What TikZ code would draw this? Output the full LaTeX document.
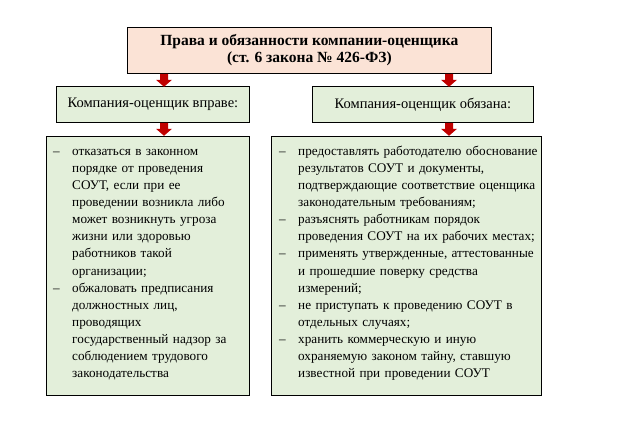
\documentclass[tikz,border=0pt]{standalone}
\usepackage{fontspec}
\setmainfont{Liberation Serif}
\definecolor{peach}{HTML}{FBE3D6}
\definecolor{sage}{HTML}{E3EFDA}
\definecolor{darkred}{HTML}{C00000}
\newcommand\dashitem{\par\hangindent=19pt\hangafter=1\noindent\makebox[19pt][l]{–}}
\tikzset{
  box/.style={draw, line width=0.8pt, anchor=north west, inner sep=0pt},
  redarrow/.style={fill=darkred, draw=none}
}
% block arrow pointing down from a point
\newcommand\redarrowdown[1]{\fill[redarrow] #1 ++(-4,0) -- ++(0,6) -- ++(-4,0) -- ++(8,7) -- ++(8,-7) -- ++(-4,0) -- ++(0,-6) -- cycle;}
\begin{document}
\begin{tikzpicture}[x=1pt,y=-1pt]
\useasboundingbox (0,0) rectangle (636,429);

% the heading
\node[box, fill=peach, minimum width=364pt, minimum height=46pt] (head) at (127,27) {};
\node[font=\bfseries\fontsize{15.5}{17}\selectfont, align=center] at (head.center)
  {Права и обязанности компании-оценщика\\(ст. 6 закона № 426-ФЗ)};

% the two headers
\node[box, fill=sage, minimum width=193pt, minimum height=36pt] (rights) at (56,86) {};
\node[font=\fontsize{14.5}{16}\selectfont] at (rights.center) {Компания-оценщик вправе:};
\node[box, fill=sage, minimum width=221pt, minimum height=36pt] (duties) at (312,86) {};
\node[font=\fontsize{14.5}{16}\selectfont] at (duties.center) {Компания-оценщик обязана:};

% the two lists
\node[box, fill=sage, minimum width=203pt, minimum height=259pt] (rightslist) at (46,136) {};
\node[anchor=north west, inner sep=0pt, text width=195pt, align=left,
      font=\fontsize{13.2}{17.1}\selectfont] at (53,138) {%
  \dashitem отказаться в законном\newline порядке от проведения\newline СОУТ, если при ее\newline проведении возникла либо\newline может возникнуть угроза\newline жизни или здоровью\newline работников такой\newline организации;
  \dashitem обжаловать предписания\newline должностных лиц,\newline проводящих\newline государственный надзор за\newline соблюдением трудового\newline законодательства\par};
\node[box, fill=sage, minimum width=270pt, minimum height=259pt] (dutieslist) at (271,136) {};
\node[anchor=north west, inner sep=0pt, text width=268pt, align=left,
      font=\fontsize{13.2}{17.1}\selectfont] at (279,138) {%
  \dashitem предоставлять работодателю обоснование\newline результатов СОУТ и документы,\newline подтверждающие соответствие оценщика\newline законодательным требованиям;
  \dashitem разъяснять работникам порядок\newline проведения СОУТ на их рабочих местах;
  \dashitem применять утвержденные, аттестованные\newline и прошедшие поверку средства\newline измерений;
  \dashitem не приступать к проведению СОУТ в\newline отдельных случаях;
  \dashitem хранить коммерческую и иную\newline охраняемую законом тайну, ставшую\newline известной при проведении СОУТ\par};

% arrows
\coordinate (leftaxis) at (164,0);
\coordinate (rightaxis) at (449,0);
\redarrowdown{(head.south -| leftaxis)}
\redarrowdown{(head.south -| rightaxis)}
\redarrowdown{(rights.south -| leftaxis)}
\redarrowdown{(duties.south -| rightaxis)}
\end{tikzpicture}
\end{document}
